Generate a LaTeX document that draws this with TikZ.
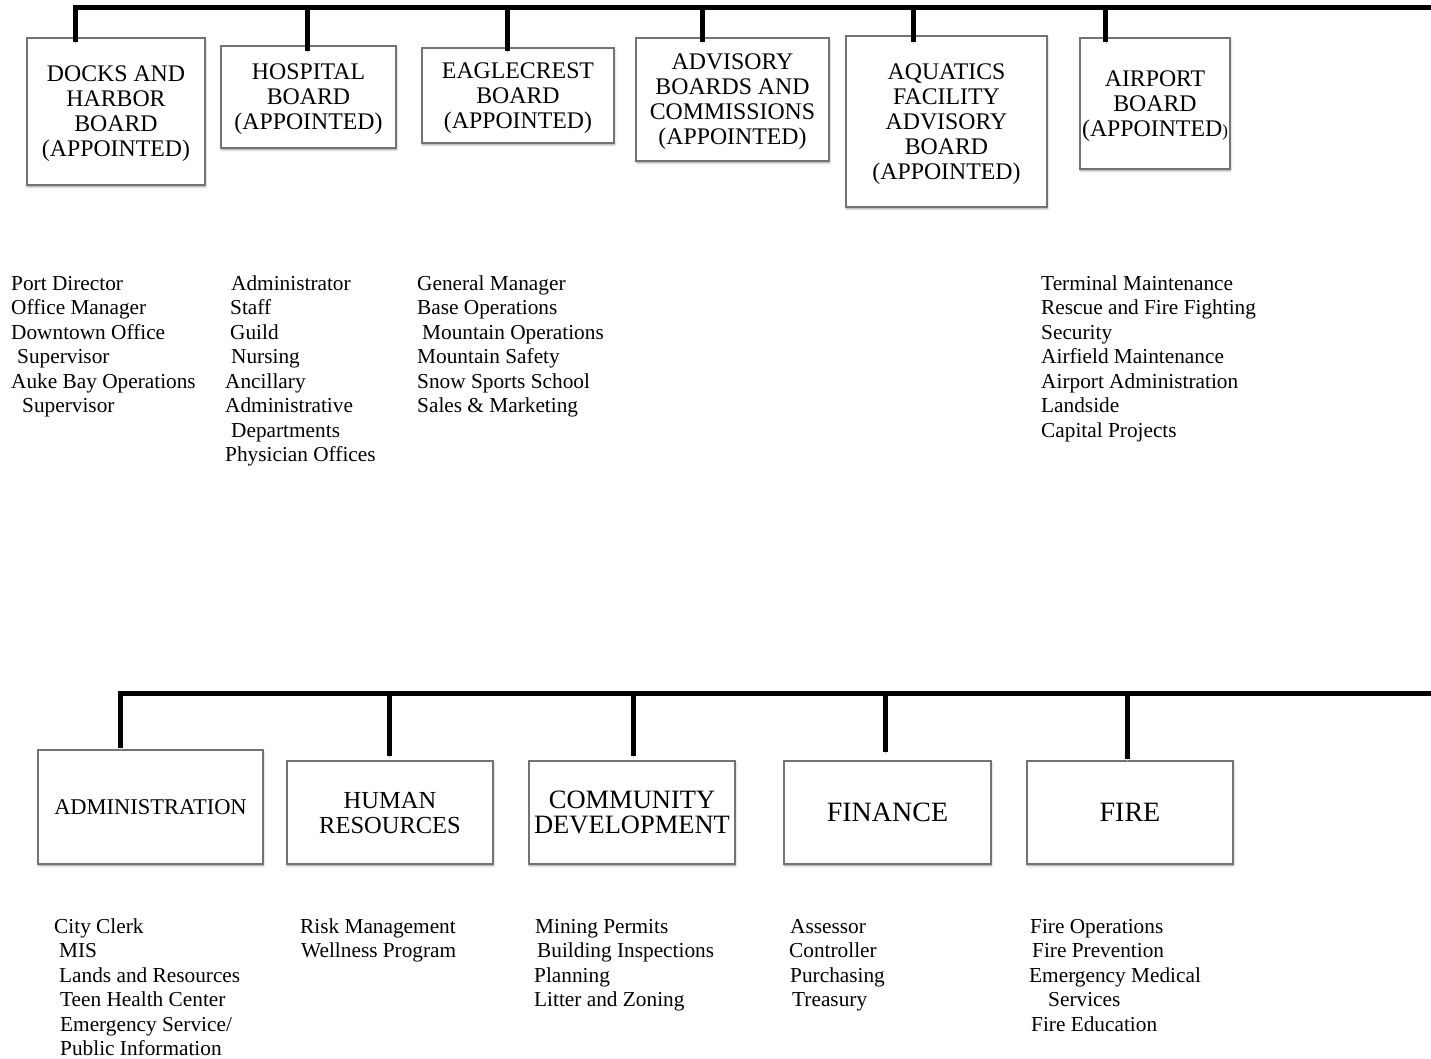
\documentclass[tikz,border=0pt]{standalone}
\usepackage{fontspec}
\setmainfont{Liberation Serif}
\usetikzlibrary{shadows.blur}

\begin{document}
\begin{tikzpicture}[x=1pt,y=-1pt,
  board/.style={draw=black!55, line width=1.1pt, fill=white, inner sep=0pt, align=center,
    text depth=0pt, font=\fontsize{23.8}{25}\selectfont,
    blur shadow={shadow xshift=0.6pt, shadow yshift=-1.8pt, shadow blur radius=2pt, shadow opacity=40}},
  bus/.style={line width=5pt, line join=miter, black,
    preaction={draw=black!25, transform canvas={xshift=0.5pt, yshift=-1.5pt}}},
  duties/.style={anchor=north west, inner sep=0pt, align=left, font=\fontsize{21.3}{24.5}\selectfont},
]
\useasboundingbox (0,0) rectangle (1431,1059);

% ---------- appointed boards ----------
\node[board, minimum width=178pt, minimum height=147pt] (docks) at (116,111.5)
  {DOCKS AND\\HARBOR\\BOARD\\(APPOINTED)};
\node[board, minimum width=175pt, minimum height=102pt] (hosp) at (308.5,97)
  {HOSPITAL\\BOARD\\(APPOINTED)};
\node[board, minimum width=192pt, minimum height=95pt] (eagle) at (518,95.5)
  {EAGLECREST\\BOARD\\(APPOINTED)};
\node[board, minimum width=193pt, minimum height=123pt] (advis) at (732.5,99.5)
  {ADVISORY\\BOARDS AND\\COMMISSIONS\\(APPOINTED)};
\node[board, minimum width=201pt, minimum height=171pt] (aqua) at (946.5,121.5)
  {AQUATICS\\FACILITY\\ADVISORY\\BOARD\\(APPOINTED)};
\node[board, minimum width=150pt, minimum height=131pt] (airp) at (1155,103.5)
  {AIRPORT\\BOARD\\(APPOINTED{\fontsize{17}{17}\selectfont)}};

% top bus and drops
\coordinate (tEnd) at (1440,8);
\coordinate (t1) at (75,8);
\coordinate (t2) at (307,8);
\coordinate (t3) at (507,8);
\coordinate (t4) at (702,8);
\coordinate (t5) at (913,8);
\coordinate (t6) at (1105.5,8);
\draw[bus, shorten >=-5pt] (tEnd) -- (t1) -- (t1 |- docks.north);
\draw[bus, shorten >=-6pt] (t2) -- (t2 |- hosp.north);
\draw[bus, shorten >=-4pt] (t3) -- (t3 |- eagle.north);
\draw[bus, shorten >=-5pt] (t4) -- (t4 |- advis.north);
\draw[bus, shorten >=-7pt] (t5) -- (t5 |- aqua.north);
\draw[bus, shorten >=-5pt] (t6) -- (t6 |- airp.north);

% duties under the boards
\node[duties] (docksList) at (11,272.9)
  {\strut Port Director\\Office Manager\\Downtown Office\\\hspace*{6pt}Supervisor\\Auke Bay Operations\\\hspace*{11pt}Supervisor};
\node[duties] (hospList) at (225,272.9)
  {\strut\hspace*{6pt}Administrator\\\hspace*{5pt}Staff\\\hspace*{5pt}Guild\\\hspace*{6pt}Nursing\\Ancillary\\Administrative\\\hspace*{6pt}Departments\\Physician Offices};
\node[duties] (eagleList) at (417,272.9)
  {\strut General Manager\\Base Operations\\\hspace*{5pt}Mountain Operations\\Mountain Safety\\Snow Sports School\\Sales \& Marketing};
\node[duties] (airpList) at (1041,272.9)
  {\strut Terminal Maintenance\\Rescue and Fire Fighting\\Security\\Airfield Maintenance\\Airport Administration\\Landside\\Capital Projects};

% ---------- departments ----------
\node[board, minimum width=225pt, minimum height=114pt, font=\fontsize{22.5}{25}\selectfont] (admin) at (150.5,807)
  {ADMINISTRATION};
\node[board, minimum width=206pt, minimum height=103pt, font=\fontsize{24.5}{25}\selectfont] (hr) at (390,812.5)
  {HUMAN\\RESOURCES};
\node[board, minimum width=206pt, minimum height=103pt, font=\fontsize{26.5}{25}\selectfont] (cd) at (632,812.5)
  {COMMUNITY\\DEVELOPMENT};
\node[board, minimum width=207pt, minimum height=103pt, font=\fontsize{28}{28}\selectfont] (fin) at (887.5,812.5)
  {FINANCE};
\node[board, minimum width=206pt, minimum height=103pt, font=\fontsize{28}{28}\selectfont] (fire) at (1130,812.5)
  {FIRE};

% bottom bus and drops
\coordinate (bEnd) at (1440,693);
\coordinate (b1) at (120.5,693);
\coordinate (b2) at (389,693);
\coordinate (b3) at (633,693);
\coordinate (b4) at (885,693);
\coordinate (b5) at (1127,693);
\draw[bus, shorten >=1pt] (bEnd) -- (b1) -- (b1 |- admin.north);
\draw[bus, shorten >=4pt] (b2) -- (b2 |- hr.north);
\draw[bus, shorten >=4pt] (b3) -- (b3 |- cd.north);
\draw[bus, shorten >=8pt] (b4) -- (b4 |- fin.north);
\draw[bus, shorten >=1pt] (b5) -- (b5 |- fire.north);

% duties under the departments
\node[duties] (adminList) at (54,915.9)
  {\strut City Clerk\\\hspace*{5pt}MIS\\\hspace*{5pt}Lands and Resources\\\hspace*{6pt}Teen Health Center\\\hspace*{6pt}Emergency Service/\\\hspace*{6pt}Public Information};
\node[duties] (hrList) at (300,915.9)
  {\strut Risk Management\\\hspace*{1pt}Wellness Program};
\node[duties] (cdList) at (534,915.9)
  {\strut\hspace*{1pt}Mining Permits\\\hspace*{3pt}Building Inspections\\Planning\\Litter and Zoning};
\node[duties] (finList) at (789,915.9)
  {\strut\hspace*{1pt}Assessor\\Controller\\\hspace*{1pt}Purchasing\\\hspace*{3pt}Treasury};
\node[duties] (fireList) at (1029,915.9)
  {\strut\hspace*{1pt}Fire Operations\\\hspace*{3pt}Fire Prevention\\Emergency Medical\\\hspace*{19pt}Services\\\hspace*{2pt}Fire Education};
\end{tikzpicture}
\end{document}
